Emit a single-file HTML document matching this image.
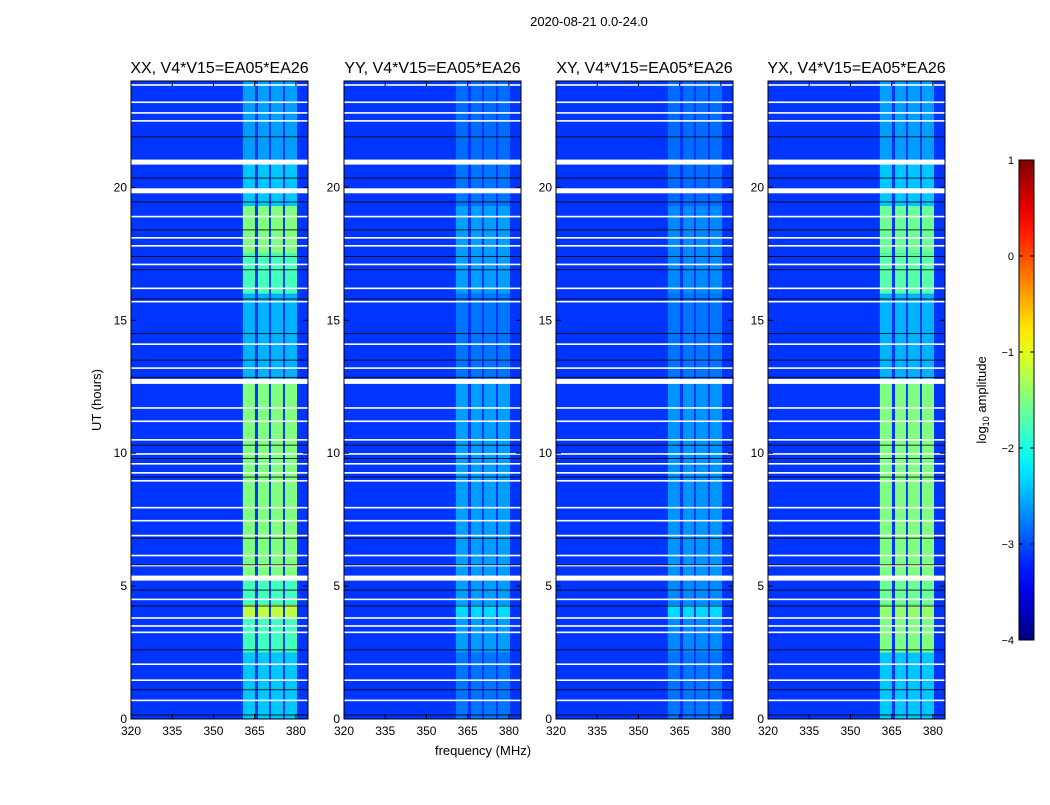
<!DOCTYPE html>
<html><head><meta charset="utf-8">
<style>
body{margin:0;background:#fff;font-family:"Liberation Sans",sans-serif;}
svg text{font-family:"Liberation Sans",sans-serif;}
</style></head>
<body>
<svg id="fig" width="1050" height="800" xmlns="http://www.w3.org/2000/svg">
<rect width="1050" height="800" fill="#fff"/>
<text x="589" y="26" font-size="13" text-anchor="middle">2020-08-21 0.0-24.0</text>
<text x="483" y="755" font-size="13" text-anchor="middle">frequency (MHz)</text>
<text transform="translate(101,400) rotate(-90)" font-size="13" text-anchor="middle">UT (hours)</text>
<text transform="translate(986,400) rotate(-90)" font-size="13" text-anchor="middle">log<tspan font-size="9" dy="3">10</tspan><tspan dy="-3"> amplitude</tspan></text>
<g id="panels"></g>
<g id="cbar"></g>
</svg>
<script>
const panelTitles = ["XX, V4*V15=EA05*EA26","YY, V4*V15=EA05*EA26","XY, V4*V15=EA05*EA26","YX, V4*V15=EA05*EA26"];
const xTicks = [320,335,350,365,380];
const yTicks = [0,5,10,15,20];
const segStarts = [0,2.5,3.8,4.3,5.3,12.8,16.0,17.5,19.3,21.0];
const segEnd = 24;
const levelXX = [-2.4,-1.8,-1.2,-1.8,-1.5,-2.5,-1.8,-1.5,-2.4,-2.6];
const levelYY = [-2.8,-2.6,-2.3,-2.6,-2.6,-2.8,-2.6,-2.6,-2.8,-2.85];
const levelXY = [-2.8,-2.7,-2.3,-2.7,-2.65,-2.8,-2.7,-2.7,-2.85,-2.85];
const levelYX = [-2.4,-1.5,-1.4,-1.6,-1.5,-2.5,-1.7,-1.6,-2.4,-2.6];
const subBandLo = [360.7,366.2,370.9,376.0];
const subBandHi = [365.1,370.2,375.3,380.4];
const backgroundLevel = -3.12;
const whiteRows = [23.85,23.2,22.8,22.5,18.9,18.1,17.8,17.1,16.2,15.7,14.1,13.2,11.7,11.2,10.5,9.97,9.6,9.26,8.96,7.95,7.46,6.9,6.15,5.77,4.5,3.8,3.5,3.26,2.06,1.46,0.7];
const whiteThick = [20.95,19.87,12.7,5.3];
const blackRows = [21.9,20.35,19.45,18.4,17.4,16.9,15.8,14.5,13.5,12.85,10.3,9.8,9.1,6.8,5.8,4.85,4.25,2.6,1.1,0.15];
const cbTicks = [1,0,-1,-2,-3,-4];

const levels=[levelXX,levelYY,levelXY,levelYX];
const panelLeft=[131,344,556,768], pw=177, pTop=81, pBottom=719;
const fmin=320, fmax=384.4, tmin=0, tmax=24;
const NS="http://www.w3.org/2000/svg";
function jet(v){let t=Math.max(0,Math.min(1,(v+4)/5));
 const c=x=>Math.round(255*Math.max(0,Math.min(1,x)));
 return `rgb(${c(1.5-Math.abs(4*t-3))},${c(1.5-Math.abs(4*t-2))},${c(1.5-Math.abs(4*t-1))})`;}
function el(tag,attrs,parent){const e=document.createElementNS(NS,tag);for(const k in attrs)e.setAttribute(k,attrs[k]);parent.appendChild(e);return e;}
const G=document.getElementById('panels');
panelTitles.forEach((title,p)=>{
 const x0=panelLeft[p];
 const xs=f=>x0+(f-fmin)/(fmax-fmin)*pw;
 const ys=h=>pBottom-(h-tmin)/(tmax-tmin)*(pBottom-pTop);
 const g=el('g',{},G);
 
 
 const bg=el('rect',{x:x0,y:pTop,width:pw,height:pBottom-pTop,fill:jet(backgroundLevel)},g);
 
 
 const lv=levels[p];
 segStarts.forEach((s,i)=>{
  const e=i+1<segStarts.length?segStarts[i+1]:segEnd;
  subBandLo.forEach((lo,j)=>{
   const r=el('rect',{x:xs(lo),y:ys(e),width:xs(subBandHi[j])-xs(lo),height:ys(s)-ys(e),fill:jet(lv[i])},g);
   
   
  });
 });
 whiteRows.forEach(h=>{const r=el('rect',{x:x0,y:ys(h)-0.8,width:pw,height:1.6,fill:'#fff'},g);
  
  });
 whiteThick.forEach(h=>{const r=el('rect',{x:x0,y:ys(h)-2.5,width:pw,height:5,fill:'#fff'},g);
  
  });
 blackRows.forEach(h=>{const r=el('rect',{x:x0,y:ys(h)-0.5,width:pw,height:1,fill:'#000','fill-opacity':0.8},g);
  
  });
 el('rect',{x:x0,y:pTop,width:pw,height:pBottom-pTop,fill:'none',stroke:'#000','stroke-width':1},g);
 const t=el('text',{x:x0+pw/2,y:73,'font-size':16,'text-anchor':'middle'},g);t.textContent=title;
 
 
 xTicks.forEach(v=>{const x=xs(v);
  el('line',{x1:x,x2:x,y1:pBottom,y2:pBottom-5,stroke:'#000'},g);
  el('line',{x1:x,x2:x,y1:pTop,y2:pTop+5,stroke:'#000'},g);
  const tl=el('text',{x:x,y:pBottom+16,'font-size':12,'text-anchor':'middle'},g);tl.textContent=v;
  
  });
 yTicks.forEach(v=>{const y=ys(v);
  el('line',{x1:x0,x2:x0+5,y1:y,y2:y,stroke:'#000'},g);
  el('line',{x1:x0+pw,x2:x0+pw-5,y1:y,y2:y,stroke:'#000'},g);
  const tl=el('text',{x:x0-4,y:y+4,'font-size':12,'text-anchor':'end'},g);tl.textContent=v;
  
  });
});
const C=document.getElementById('cbar');
const cbx=1019,cbw=15,cbt=160,cbb=640;
const cys=v=>cbb-(v+4)/5*(cbb-cbt);
const defs=el('defs',{},C);
const lg=el('linearGradient',{id:'jetg',x1:0,y1:1,x2:0,y2:0},defs);
for(let i=0;i<=20;i++){el('stop',{offset:i/20,'stop-color':jet(-4+5*i/20)},lg);}
const cb=el('rect',{x:cbx,y:cbt,width:cbw,height:cbb-cbt,fill:'url(#jetg)',stroke:'#000'},C);


cbTicks.forEach(v=>{const y=cys(v);
 el('line',{x1:cbx,x2:cbx+4,y1:y,y2:y,stroke:'#000'},C);
 el('line',{x1:cbx+cbw,x2:cbx+cbw-4,y1:y,y2:y,stroke:'#000'},C);
 const t=el('text',{x:cbx-5,y:y+4,'font-size':11,'text-anchor':'end'},C);t.textContent=(v<0?'\u2212'+(-v):v);
 
 });
</script>
</body></html>
